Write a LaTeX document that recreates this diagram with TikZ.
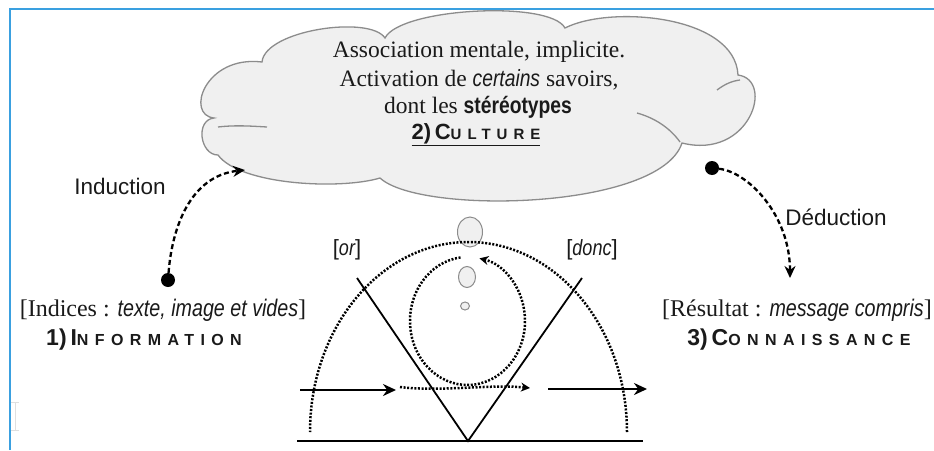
\documentclass[tikz,border=0pt]{standalone}
\usepackage{fontspec}
\setmainfont{Liberation Serif}
\setsansfont{Liberation Sans}
\newfontfamily\nsans[FakeStretch=0.82]{Liberation Sans}
\newfontfamily\spsans[LetterSpace=40]{Liberation Sans}
\usetikzlibrary{arrows.meta,shapes.geometric}
\definecolor{framecol}{HTML}{3AA0E0}
\definecolor{cloudfill}{HTML}{F0F0F0}
\definecolor{cloudline}{HTML}{8C8C8C}
\definecolor{txt}{HTML}{1A1A1A}
\tikzset{
  cloudpath/.style={draw=cloudline, fill=cloudfill, line width=1.3pt},
  crease/.style={draw=cloudline, line width=1.3pt},
  bubble/.style={draw=cloudline, fill=cloudfill, line width=1pt},
  dasharrow/.style={line width=2.3pt, dash pattern=on 5pt off 3pt, -{Stealth[length=12pt,width=11pt]}},
  dotline/.style={line width=2.5pt, dash pattern=on 2pt off 1.6pt},
  solidarrow/.style={line width=2.6pt, -{Stealth[length=13pt,width=12pt]}},
  vline/.style={line width=1.8pt},
  bigdot/.style={circle, fill=black, inner sep=0pt, minimum size=14pt},
  serif/.style={font=\fontsize{23.5}{27}\selectfont, text=txt, inner sep=0pt},
  lab/.style={font=\sffamily\fontsize{22.5}{26}\selectfont, text=txt, inner sep=0pt},
  bottomtxt/.style={inner sep=0pt, text=txt, font=\fontsize{24}{28}\selectfont},
  titletxt/.style={inner sep=0pt, text=txt},
}
\newcommand{\mysmcap}[2]{{\sffamily\bfseries\fontsize{23}{26}\selectfont #1}{\spsans\bfseries\fontsize{16}{18}\selectfont #2}}
\begin{document}
\begin{tikzpicture}[x=1pt,y=-1pt]
\useasboundingbox (0,0) rectangle (934,450);
\fill[white] (0,0) rectangle (934,450);
\draw[framecol, line width=2pt] (10,450) -- (10,9) -- (934,9);
% faint cursor
\draw[gray!25, line width=0.8pt] (15,402) -- (15,430) (11,402) -- (19,402) (11,430) -- (19,430);

% cloud
\path[cloudpath] (214,118) .. controls (185,115) and (205,55) .. (262,62)
 .. controls (265,30) and (370,15) .. (385,38)
 .. controls (400,8) and (550,0) .. (565,28)
 .. controls (610,5) and (735,15) .. (738,75)
 .. controls (775,80) and (750,160) .. (682,143)
 .. controls (660,210) and (420,215) .. (380,178)
 .. controls (340,190) and (240,185) .. (218,155)
 .. controls (200,155) and (195,120) .. (214,118) -- cycle;
\draw[crease] (218,127) .. controls (235,125) and (250,126) .. (267,127);
\draw[crease] (717,90) .. controls (725,84) and (732,81) .. (740,80);
\draw[crease] (637,113) .. controls (655,118) and (670,128) .. (680,142);

% cloud text
\node[serif] (l1) at (479,52) {Association mentale, implicite.};
\node[serif] (l2) at (479,80) {Activation de {\nsans\itshape certains} savoirs,};
\node[serif] (l3) at (478,107) {dont les {\nsans\bfseries stéréotypes}};
\node[titletxt] (cult) at (476,135) {\underline{{\sffamily\bfseries\fontsize{22}{26}\selectfont 2)\,C}{\spsans\bfseries\fontsize{15}{18}\selectfont ULTURE}}};

% induction / deduction
\node[lab] (ind) at (120,186) {Induction};
\node[lab] (ded) at (836,217) {Déduction};
\node[bigdot] (dotL) at (168,280) {};
\node[bigdot] (dotR) at (712,168) {};
\coordinate (endL) at (245,170);
\coordinate (endR) at (790,278);
\draw[dasharrow] (dotL) .. controls (172,228) and (190,176) .. (endL);
\draw[dasharrow] (dotR) .. controls (748,172) and (790,215) .. (endR);

% bottom labels
\node[bottomtxt] (indices) at (163,310) {[Indices : {\nsans\itshape texte, image et vides}]};
\node[titletxt] (info) at (144,340) {\mysmcap{1)\,I}{NFORMATION}};
\node[bottomtxt] (result) at (797,310) {[Résultat : {\nsans\itshape message compris}]};
\node[titletxt] (conn) at (799,340) {\mysmcap{3)\,C}{ONNAISSANCE}};

% bottom diagram
\node[bubble, ellipse, minimum width=25pt, minimum height=30pt, inner sep=0pt] (b1) at (470,232) {};
\node[bubble, ellipse, minimum width=17pt, minimum height=21pt, inner sep=0pt] (b2) at (467,277) {};
\node[bubble, ellipse, minimum width=9pt, minimum height=8pt, inner sep=0pt] (b3) at (465,306) {};
\draw[dotline] (627,432) arc[start angle=0, end angle=-180, x radius=158.5, y radius=190];
\draw[dotline, -{Stealth[length=9pt,width=9pt]}] (467.5,321) ++(-97:57.5 and 64) arc[start angle=-97, end angle=-438, x radius=57.5, y radius=64];
\coordinate (vl) at (357,278);
\coordinate (vb) at (468,441);
\coordinate (vr) at (582,278);
\draw[vline] (vl) -- (vb) -- (vr);
\coordinate (bl) at (297,441);
\coordinate (br) at (643,441);
\draw[line width=2.8pt] (bl) -- (br);
\coordinate (a1s) at (300,390);
\coordinate (a1e) at (396,390);
\coordinate (a2s) at (548,389);
\coordinate (a2e) at (647,389);
\coordinate (a3s) at (400,387);
\coordinate (a3e) at (530,388);
\draw[solidarrow] (a1s) -- (a1e);
\draw[solidarrow] (a2s) -- (a2e);
\draw[dotline, -{Stealth[length=9pt,width=9pt]}] (a3s) .. controls (440,392) and (490,384) .. (a3e);
\node[bottomtxt, font=\sffamily\fontsize{22}{26}\selectfont] (or) at (347,250) {[{\nsans\itshape or}]};
\node[bottomtxt, font=\sffamily\fontsize{22}{26}\selectfont] (donc) at (592,250) {[{\nsans\itshape donc}]};
\end{tikzpicture}
\end{document}
